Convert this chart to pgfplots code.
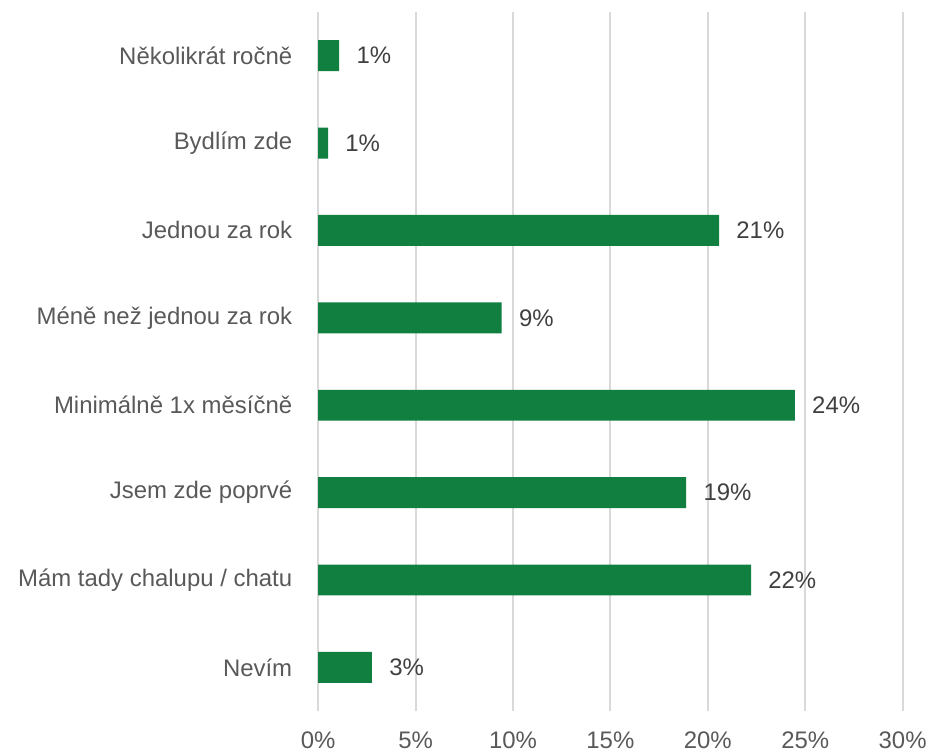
\documentclass[border=0pt]{standalone}
\usepackage{fontspec}
\setmainfont{Liberation Sans}
\usepackage{pgfplots}
\pgfplotsset{compat=1.18}
\definecolor{bargreen}{HTML}{107F40}
\definecolor{gridgray}{HTML}{D9D9D9}
\definecolor{labelgray}{HTML}{595959}
\definecolor{valgray}{HTML}{404040}

\begin{document}
\begin{tikzpicture}
\begin{axis}[
  xbar,
  scale only axis,
  width=439.5pt, height=525.75pt,
  xmin=0, xmax=30, ymin=-0.5, ymax=7.5,
  xtick={0,5,...,30},
  xticklabel={\pgfmathprintnumber{\tick}\%},
  ytick={0,...,7},
  yticklabels={Nevím, Mám tady chalupu / chatu, Jsem zde poprvé, Minimálně 1x měsíčně,
    Méně než jednou za rok, Jednou za rok, Bydlím zde, Několikrát ročně},
  axis line style={draw=none},
  major tick length=0pt,
  xmajorgrids,
  grid style={gridgray, line width=1.5pt},
  bar width=23.25pt,
  ticklabel style={font=\fontsize{18}{21}\selectfont, text=labelgray},
  xticklabel style={inner ysep=0pt, yshift=-15.5pt},
  yticklabel style={xshift=-16pt},
  /pgf/number format/assume math mode=true,
  nodes near coords={\pgfmathprintnumber[fixed,precision=0]{\pgfplotspointmeta}\%},
  every node near coord/.append style={font=\fontsize{18}{21}\selectfont, text=valgray, anchor=west, xshift=9.5pt},
  point meta=explicit,
]
\addplot[fill=bargreen, draw=none] coordinates {
  (2.76,0) [2.76]
  (22.22,1) [22.22]
  (18.89,2) [18.89]
  (24.47,3) [24.47]
  (9.42,4) [9.42]
  (20.58,5) [20.58]
  (0.51,6) [0.51]
  (1.08,7) [1.08]
};
\end{axis}
\path (current axis.south west) ++(-239.25pt,-31pt) coordinate (a);
\path (current axis.north east) ++(17.25pt,9pt) coordinate (b);
\path (a) rectangle (b);
\end{tikzpicture}
\end{document}
